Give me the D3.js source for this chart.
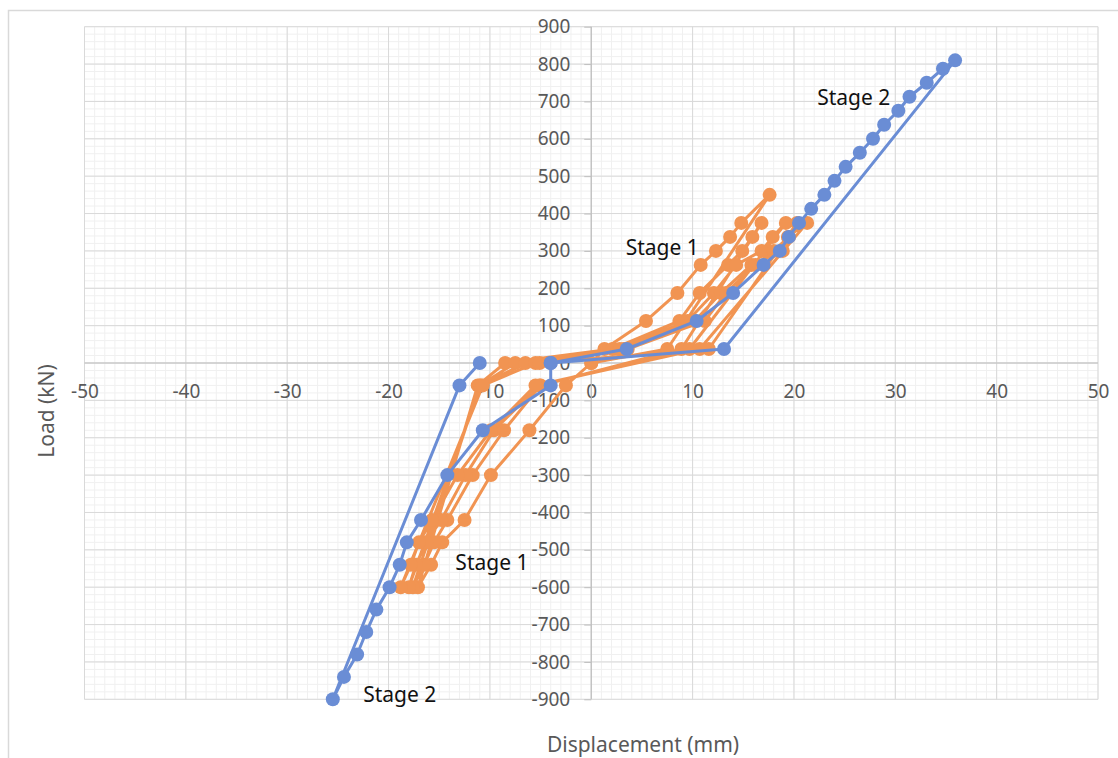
<!DOCTYPE html>
<html>
<head>
<meta charset="utf-8">
<script src="https://cdn.jsdelivr.net/npm/d3@7"></script>
<style>
  body { margin: 0; background: #fff; }
  text { font-family: "Noto Sans", "Open Sans", sans-serif; }
</style>
</head>
<body>
<script>
// Stage 1 (orange) cycles: displacement (mm) / load (kN)
const stage1Disp = [
  0, 1.3, 5.4, 8.5, 10.8, 12.3, 13.7, 14.8, 17.6, 7.5, 0,
  -2.5, -6.1, -9.9, -12.5, -14.7, -15.8, -17.1, -11.2, -8.5,
  2.1, 8.7, 10.7, 13.5, 14.9, 15.9, 16.8, 8.9,
  -5.0, -8.6, -11.7, -14.2, -15.5, -16.5, -17.6, -11.0, -7.5,
  2.8, 9.5, 12.1, 14.3, 16.8, 17.9, 19.2, 9.7,
  -5.1, -9.6, -12.4, -14.8, -16.3, -17.3, -18.0, -10.9, -6.5,
  3.2, 10.2, 12.8, 15.8, 18.9, 19.4, 21.3, 10.7,
  -5.5, -9.9, -13.2, -15.7, -17.0, -17.8, -18.8, -10.7, -5.5,
  3.6, 11.2, 13.3, 16.2, 18.0, 19.5, 20.3, 11.6, -5.1
];
const stage1Load = [
  0, 37.5, 112.5, 187.5, 262.5, 300, 337.5, 375, 450, 37.5, 0,
  -60, -180, -300, -420, -480, -540, -600, -60, 0,
  37.5, 112.5, 187.5, 262.5, 300, 337.5, 375, 37.5,
  -60, -180, -300, -420, -480, -540, -600, -60, 0,
  37.5, 112.5, 187.5, 262.5, 300, 337.5, 375, 37.5,
  -60, -180, -300, -420, -480, -540, -600, -60, 0,
  37.5, 112.5, 187.5, 262.5, 300, 337.5, 375, 37.5,
  -60, -180, -300, -420, -480, -540, -600, -60, 0,
  37.5, 112.5, 187.5, 262.5, 300, 337.5, 375, 37.5, 0
];

// Stage 2 (blue)
const stage2Disp = [
  -4.0, 3.5, 10.4, 14.0, 17.0, 18.6, 19.5, 20.5, 21.7, 23.0, 24.0, 25.1,
  26.5, 27.8, 28.9, 30.3, 31.4, 33.1, 34.7, 35.9, 13.1, -4.0,
  -4.0, -10.7, -14.2, -16.8, -18.2, -18.9, -19.9, -21.2, -22.2, -23.1,
  -24.4, -25.5, -13.0, -11.0
];
const stage2Load = [
  0, 37.5, 112.5, 187.5, 262.5, 300, 337.5, 375, 412.5, 450, 487.5, 525,
  562.5, 600, 637.5, 675, 712.5, 750, 787.5, 810, 37.5, 0,
  -60, -180, -300, -420, -480, -540, -600, -660, -720, -780,
  -840, -900, -60, 0
];

const xTickValues = [-50, -40, -30, -20, -10, 0, 10, 20, 30, 40, 50];
const yTickValues = [-900, -800, -700, -600, -500, -400, -300, -200, -100,
  0, 100, 200, 300, 400, 500, 600, 700, 800, 900];

const noteText = ["Stage 2", "Stage 1", "Stage 1", "Stage 2"];
const noteDisp = [25.9, 7.0, -9.8, -18.9];
const noteLoad = [712, 310, -533, -886];

const width = 1118;
const height = 758;
const orange = "#f19452";
const blue = "#6a8dd5";

const svg = d3.select("body").append("svg")
  .attr("width", width)
  .attr("height", height);

// outer chart border
svg.append("rect")
  .attr("x", 8.5).attr("y", 10.5)
  .attr("width", width).attr("height", height)
  .attr("fill", "none")
  .attr("stroke", "#d9d9d9")
  .attr("stroke-width", 1.5);

const x = d3.scaleLinear().domain([-50, 50]).range([84.5, 1098]);
const y = d3.scaleLinear().domain([-900, 900]).range([699.3, 26.7]);

// minor gridlines
const grid = svg.append("g");
grid.selectAll(".vminor").data(x.ticks(100)).enter().append("line")
  .attr("x1", d => x(d)).attr("x2", d => x(d))
  .attr("y1", y(900)).attr("y2", y(-900))
  .attr("stroke", "#f0f0f0").attr("stroke-width", 1);
grid.selectAll(".hminor").data(y.ticks(90)).enter().append("line")
  .attr("x1", x(-50)).attr("x2", x(50))
  .attr("y1", d => y(d)).attr("y2", d => y(d))
  .attr("stroke", "#f0f0f0").attr("stroke-width", 1);
// major gridlines
grid.selectAll(".vmajor").data(xTickValues).enter().append("line")
  .attr("x1", d => x(d)).attr("x2", d => x(d))
  .attr("y1", y(900)).attr("y2", y(-900))
  .attr("stroke", "#d9d9d9").attr("stroke-width", 1);
grid.selectAll(".hmajor").data(yTickValues).enter().append("line")
  .attr("x1", x(-50)).attr("x2", x(50))
  .attr("y1", d => y(d)).attr("y2", d => y(d))
  .attr("stroke", "#d9d9d9").attr("stroke-width", 1);

// axes crossing at zero
const xAxis = d3.axisBottom(x).tickValues(xTickValues).tickSize(0)
  .tickPadding(22).tickFormat(d => String(d));
const yAxis = d3.axisLeft(y).tickValues(yTickValues).tickSize(7)
  .tickPadding(14).tickFormat(d => String(d));

const gx = svg.append("g").attr("transform", `translate(0,${y(0)})`).call(xAxis);
const gy = svg.append("g").attr("transform", `translate(${x(0)},0)`).call(yAxis);
[gx, gy].forEach(g => {
  g.select(".domain").attr("stroke", "#bfbfbf").attr("stroke-width", 1.2);
  g.selectAll(".tick line").attr("stroke", "#bfbfbf");
  g.selectAll(".tick text")
    .attr("fill", "#595959")
    .style("font-size", "19px")
    .style("font-family", '"Noto Sans", sans-serif');
});
gx.select(".domain").attr("d", `M${x(-50)},0H${x(50)}`);
gy.select(".domain").attr("d", `M0,${y(900)}V${y(-900)}`);

// series
function drawSeries(dx, dy, color) {
  const pts = dx.map((d, i) => [d, dy[i]]);
  const g = svg.append("g");
  g.append("path")
    .datum(pts)
    .attr("fill", "none")
    .attr("stroke", color)
    .attr("stroke-width", 3)
    .attr("stroke-linejoin", "round")
    .attr("d", d3.line().x(d => x(d[0])).y(d => y(d[1])));
  g.selectAll("circle").data(pts).enter().append("circle")
    .attr("cx", d => x(d[0]))
    .attr("cy", d => y(d[1]))
    .attr("r", 7)
    .attr("fill", color);
}
drawSeries(stage1Disp, stage1Load, orange);
drawSeries(stage2Disp, stage2Load, blue);

// annotations
svg.selectAll(".note").data(noteText).enter().append("text")
  .attr("x", (d, i) => x(noteDisp[i]))
  .attr("y", (d, i) => y(noteLoad[i]))
  .attr("text-anchor", "middle")
  .attr("dominant-baseline", "central")
  .attr("fill", "#111")
  .style("font-size", "21px")
  .text(d => d);

// axis titles
svg.append("text")
  .attr("x", 643).attr("y", 744)
  .attr("text-anchor", "middle")
  .attr("dominant-baseline", "central")
  .attr("fill", "#595959")
  .style("font-size", "21px")
  .text("Displacement (mm)");

svg.append("text")
  .attr("transform", "translate(46,411) rotate(-90)")
  .attr("text-anchor", "middle")
  .attr("dominant-baseline", "central")
  .attr("fill", "#595959")
  .style("font-size", "21px")
  .text("Load (kN)");
</script>
</body>
</html>
